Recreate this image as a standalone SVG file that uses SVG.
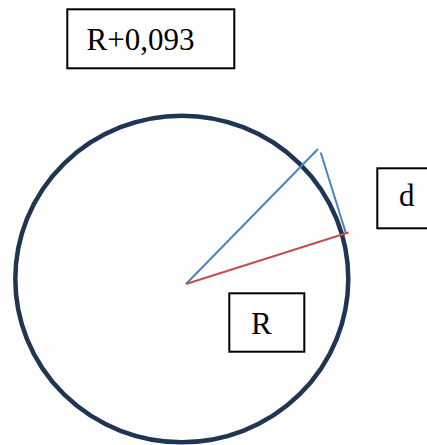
<svg xmlns="http://www.w3.org/2000/svg" width="427" height="445" viewBox="0 0 427 445">
<style>
.box{fill:#fff;stroke:#000;stroke-width:2}
.lbl{font-family:'Liberation Serif','DejaVu Serif','Times New Roman',serif;font-size:31px;fill:#000}
.blue{stroke:#4F81BD;stroke-width:2;fill:none}
.red{stroke:#C0504D;stroke-width:2;fill:none}
</style>
<g id="circle">
<ellipse cx="181.8" cy="279" rx="166.5" ry="163.3" fill="none" stroke="#1F3553" stroke-width="4.5"/>
</g>
<g id="connectors">
<line class="blue" x1="186" y1="284" x2="318" y2="149"/>
<line class="blue" x1="320.7" y1="152.5" x2="346" y2="233.5"/>
<line class="red" x1="186" y1="284" x2="348.5" y2="232.5"/>
</g>
<g id="label-top">
<rect class="box" x="67.3" y="9.3" width="167" height="59"/>
<text class="lbl" x="86.5" y="50" font-family="Liberation Serif, serif">R+0,093</text>
</g>
<g id="label-d">
<rect class="box" x="377.3" y="168.3" width="60" height="60"/>
<text class="lbl" x="399" y="206" font-family="Liberation Serif, serif">d</text>
</g>
<g id="label-R">
<rect class="box" x="229.3" y="293.3" width="75" height="58.4"/>
<text class="lbl" x="251" y="334.3" font-family="Liberation Serif, serif">R</text>
</g>
</svg>
